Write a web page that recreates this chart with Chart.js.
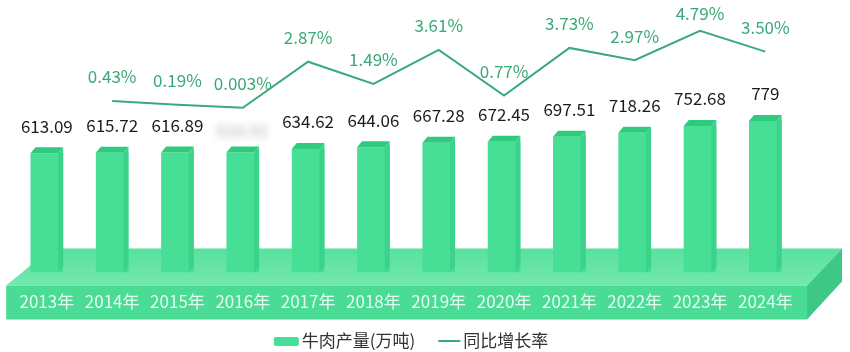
<!DOCTYPE html>
<html><head><meta charset="utf-8">
<script src="https://cdn.jsdelivr.net/npm/chart.js@4.4.1/dist/chart.umd.min.js"></script>
<style>html,body{margin:0;padding:0;background:#fff}canvas{display:block}</style>
</head><body>
<canvas id="c" width="850" height="352"></canvas>
<script>
const years = ['2013年','2014年','2015年','2016年','2017年','2018年','2019年','2020年','2021年','2022年','2023年','2024年'];
const production = [613.09, 615.72, 616.89, 616.91, 634.62, 644.06, 667.28, 672.45, 697.51, 718.26, 752.68, 779];
const productionLabels = ['613.09','615.72','616.89','616.91','634.62','644.06','667.28','672.45','697.51','718.26','752.68','779'];
const growth = [null, 0.43, 0.19, 0.003, 2.87, 1.49, 3.61, 0.77, 3.73, 2.97, 4.79, 3.50];
const growthLabels = ['', '0.43%','0.19%','0.003%','2.87%','1.49%','3.61%','0.77%','3.73%','2.97%','4.79%','3.50%'];
const obscuredLabels = ['2016年'];
const seriesNames = ['牛肉产量(万吨)', '同比增长率'];

const FONT = "'Noto Sans CJK SC','Noto Sans',sans-serif";
const BAR = '#47de96', BAR_TOP = '#2ecb7d', BAR_SIDE = '#3bd38a';
const LINE = '#3aaa7c';

function poly(ctx, pts, color){
  ctx.beginPath(); ctx.moveTo(pts[0][0], pts[0][1]);
  for (let i=1;i<pts.length;i++) ctx.lineTo(pts[i][0], pts[i][1]);
  ctx.closePath(); ctx.fillStyle = color; ctx.fill();
}

const platform = {
  id: 'platform',
  beforeDraw(chart){
    const {ctx, chartArea:a} = chart;
    const fl = a.left - 8, fr = a.right + 9;
    const ft = a.bottom + 13, fb = a.bottom + 47;
    const bt = a.bottom - 24;
    ctx.save();
    const g = ctx.createLinearGradient(0, bt, 0, ft);
    g.addColorStop(0, '#58e19e'); g.addColorStop(1, '#74e8ae');
    poly(ctx, [[fl,ft],[fl+45,bt],[fr+35,bt],[fr,ft]], g);
    poly(ctx, [[fr,ft],[fr+35,bt],[fr+35,bt+33],[fr,fb]], '#3dc886');
    poly(ctx, [[fl,ft],[fr,ft],[fr,fb],[fl,fb]], '#4adb95');
    ctx.restore();
  }
};

const bar3d = {
  id: 'bar3d',
  afterDatasetDraw(chart, args){
    if (args.index !== 0) return;
    const {ctx} = chart;
    ctx.save();
    args.meta.data.forEach(b => {
      const x0 = b.x - b.width/2, x1 = b.x + b.width/2, yt = b.y, yb = b.base;
      const d = 5, h = 6;
      poly(ctx, [[x1-d,yt],[x1,yt-h],[x1,yb-h],[x1-d,yb]], BAR_SIDE);
      poly(ctx, [[x0,yt],[x0+d,yt-h],[x1,yt-h],[x1-d,yt]], BAR_TOP);
    });
    ctx.restore();
  }
};

const valueLabels = {
  id: 'valueLabels',
  afterDatasetsDraw(chart){
    const {ctx} = chart;
    ctx.save();
    ctx.textAlign = 'center'; ctx.textBaseline = 'middle';
    ctx.font = '17px ' + FONT;
    chart.getDatasetMeta(0).data.forEach((b, i) => {
      if (obscuredLabels.includes(years[i])) {
        ctx.save();
        ctx.filter = 'blur(3.5px)';
        ctx.fillStyle = 'rgba(80,80,80,0.45)';
        ctx.fillText(productionLabels[i], b.x, b.y - 22);
        ctx.restore();
        return;
      }
      ctx.fillStyle = '#1c1c1c';
      ctx.fillText(productionLabels[i], b.x, b.y - 27);
    });
    ctx.fillStyle = '#3aa878';
    chart.getDatasetMeta(1).data.forEach((p, i) => {
      if (growth[i] === null) return;
      ctx.fillText(growthLabels[i], p.x, Math.max(14, p.y - 24));
    });
    ctx.restore();
  }
};

const legendPlugin = {
  id: 'customLegend',
  afterDraw(chart){
    const {ctx, chartArea:a} = chart;
    ctx.save();
    ctx.font = '17px ' + FONT;
    ctx.textBaseline = 'middle'; ctx.textAlign = 'left';
    const w1 = ctx.measureText(seriesNames[0]).width, w2 = ctx.measureText(seriesNames[1]).width;
    const total = 25 + 3 + w1 + 23 + 22 + 3 + w2;
    let x = (a.left + a.right)/2 + 5 - total/2;
    const y = 341;
    ctx.fillStyle = BAR;
    ctx.beginPath(); ctx.roundRect(x, y - 4, 25, 9, 2); ctx.fill();
    x += 28;
    ctx.fillStyle = '#333';
    ctx.fillText(seriesNames[0], x, y);
    x += w1 + 23;
    ctx.strokeStyle = LINE; ctx.lineWidth = 2;
    ctx.beginPath(); ctx.moveTo(x, y); ctx.lineTo(x + 22, y); ctx.stroke();
    x += 25;
    ctx.fillText(seriesNames[1], x, y);
    ctx.restore();
  }
};

new Chart(document.getElementById('c'), {
  data: {
    labels: years,
    datasets: [
      { type: 'bar', label: seriesNames[0], data: production, backgroundColor: BAR,
        barPercentage: 0.5, categoryPercentage: 1, yAxisID: 'y', order: 2 },
      { type: 'line', label: seriesNames[1], data: growth, borderColor: LINE, borderWidth: 2,
        pointRadius: 0, tension: 0, fill: false, yAxisID: 'y2', order: 1 }
    ]
  },
  options: {
    responsive: false, animation: false, devicePixelRatio: 1,
    layout: { padding: { left: 11, right: 52, top: 0, bottom: 21 } },
    plugins: { legend: { display: false }, tooltip: { enabled: false } },
    scales: {
      x: { grid: { display: false, drawTicks: false }, border: { display: false },
           ticks: { color: 'rgba(240,255,248,0.92)', font: { size: 17, family: FONT }, padding: 19, maxRotation: 0, autoSkip: false } },
      y: { display: false, min: 0, max: 1400 },
      y2: { display: false, min: -10.25, max: 6.71 }
    }
  },
  plugins: [platform, bar3d, valueLabels, legendPlugin]
});
</script>
</body></html>
